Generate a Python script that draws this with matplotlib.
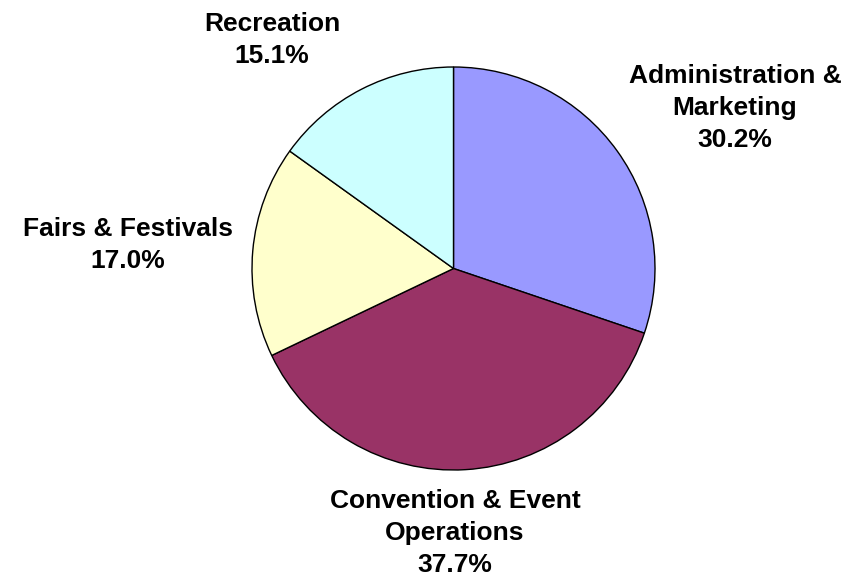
import matplotlib
matplotlib.use("Agg")
import matplotlib.pyplot as plt

categories = ["Administration &\nMarketing", "Convention & Event\nOperations",
              "Fairs & Festivals", "Recreation"]
values = [30.2, 37.7, 17.0, 15.1]
colors = ["#9999FF", "#993366", "#FFFFCC", "#CCFFFF"]

W, H = 851, 581
fig = plt.figure(figsize=(W / 100, H / 100), dpi=100)
ax = fig.add_axes([0, 0, 1, 1])
ax.set_xlim(0, W)
ax.set_ylim(0, H)
ax.set_aspect("equal")
ax.axis("off")

cx, cy, r = 453.5, H - 268.5, 201.5
ax.pie(values, colors=colors, startangle=90, counterclock=False,
       center=(cx, cy), radius=r, frame=True,
       wedgeprops=dict(edgecolor="black", linewidth=1.0))
ax.set_xlim(0, W)
ax.set_ylim(0, H)
ax.axis("off")

# label block centres (pixel coordinates, y from top)
label_pos = [(735, 108), (455, 533), (128, 245), (272, 40)]
for cat, v, (x, y) in zip(categories, values, label_pos):
    ax.text(x, H - y, f"{cat}\n{v:.1f}%", ha="center", va="center",
            fontsize=19, fontweight="bold", family="Liberation Sans",
            linespacing=1.42, color="black")

fig.savefig("out.png", dpi=100)
